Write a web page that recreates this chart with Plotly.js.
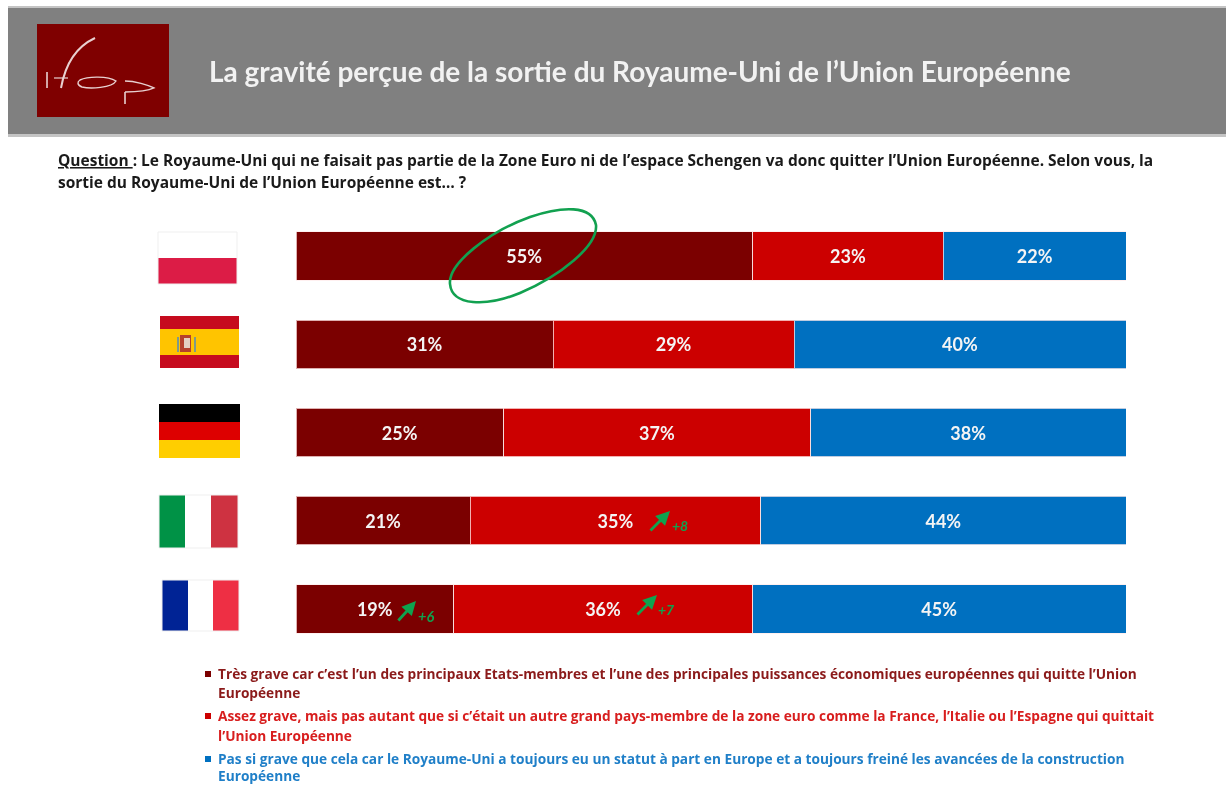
<!DOCTYPE html>
<html><head><meta charset="utf-8">
<script src="https://cdn.plot.ly/plotly-3.0.1.min.js"></script>
<style>html,body{margin:0;padding:0;background:#fff}#c{width:1226px;height:785px;filter:blur(0.7px)}</style>
</head><body><div id="c"></div>
<script>
const countries = ["Pologne","Espagne","Allemagne","Italie","France"];
const tresGrave = [55,31,25,21,19];
const assezGrave = [23,29,37,35,36];
const pasSiGrave = [22,40,38,44,45];
const seriesNames = ["Très grave","Assez grave","Pas si grave"];
const seriesColors = ["#7B0000","#CC0000","#0070C0"];
const W=1226,H=785;
const fx=x=>x/W, fy=y=>1-y/H;
const shapes=[], annotations=[];
function rect(x0,y0,x1,y1,fill,line){shapes.push({type:'rect',xref:'paper',yref:'paper',x0:fx(x0),x1:fx(x1),y0:fy(y0),y1:fy(y1),fillcolor:fill,line:line||{width:0},layer:'below'});}
function path(d,color,width,fill,layer){
  const s=d.replace(/(-?[\d.]+),(-?[\d.]+)/g,(m,a,b)=>fx(+a).toFixed(5)+','+fy(+b).toFixed(5));
  shapes.push({type:'path',xref:'paper',yref:'paper',path:s,line:{color:color,width:width},fillcolor:fill||'rgba(0,0,0,0)',layer:layer||'above'});
}
function text(x,y,t,size,color,anchor,bold,family){annotations.push({xref:'paper',yref:'paper',x:fx(x-2),y:fy(y),text:bold?'<b>'+t+'</b>':t,showarrow:false,xanchor:anchor||'left',yanchor:'middle',align:'left',font:{family:family||'Lato, Open Sans, sans-serif',size:size,color:color}});}
function arrow(x0,y0,x1,y1){annotations.push({xref:'paper',yref:'paper',x:fx(x1),y:fy(y1),ax:x0-x1,ay:y0-y1,axref:'pixel',ayref:'pixel',text:'',showarrow:true,arrowhead:2,arrowsize:1,arrowwidth:2.8,arrowcolor:'#0FA34F'});}

// header
rect(8,7,1226,135,'#808080');
rect(8,6,1226,8,'#C4C4C4');
rect(8,134,1226,137,'#C4C4C4');
rect(37,24,169,117,'#7F0000');
text(209,71,'La gravité perçue de la sortie du Royaume-Uni de l’Union Européenne',28,'#F2F2F2','left',true);
// ifop logo strokes
const lg='#E8D0D0';
path('M47,72 L47,88',lg,1.6);
path('M95,38 C80,45 66,60 61,88',lg,2);
path('M54,78 L68,78',lg,1.2);
path('M80,80 C88,76 108,76 116,81 C112,88 90,89 82,87 C77,85 77,82 80,80 Z',lg,1.4);
path('M125,81 C135,81 148,85 154,88 C146,92 134,92 125,92',lg,1.4);
path('M125,92 L125,104',lg,1.6);

// question
const qFont='Open Sans, sans-serif';
annotations.push({xref:'paper',yref:'paper',x:fx(56),y:fy(160),xanchor:'left',yanchor:'middle',showarrow:false,align:'left',
  text:'<b><u>Question </u>: Le Royaume-Uni qui ne faisait pas partie de la Zone Euro ni de l’espace Schengen va donc quitter l’Union Européenne. Selon vous, la</b>',
  font:{family:qFont,size:15.5,color:'#1A1A1A'}});
text(58,182,'sortie du Royaume-Uni de l’Union Européenne est… ?',15.5,'#1A1A1A','left',true,qFont);

// flags
function hflag(x0,x1,ys,cols){for(let i=0;i<cols.length;i++)rect(x0,ys[i],x1,ys[i+1],cols[i]);}
function vflag(y0,y1,xs,cols){for(let i=0;i<cols.length;i++)rect(xs[i],y0,xs[i+1],y1,cols[i]);}
const faint={color:'#EFEFEF',width:1};
hflag(158,237,[232,258,284],['#FFFFFF','#DC1C46']);
rect(158,232,237,284,'rgba(0,0,0,0)',faint);
hflag(160,239,[316,329,355,368],['#C60B1E','#FFC400','#C60B1E']);
rect(180,335,191,352,'#B5402B');
rect(184,338,190,348,'#E4CFC0');
rect(177,337,179,352,'#7F9A88');
rect(194,337,196,352,'#7F9A88');
hflag(159,240,[404,422,440,458],['#000000','#DD0000','#FFCE00']);
vflag(495,548,[159,185,211,238],['#009246','#FFFFFF','#CE3241']);
rect(159,495,238,548,'rgba(0,0,0,0)',faint);
vflag(580,631,[162,188,213,239],['#002395','#FFFFFF','#EE2F44']);
rect(162,580,239,631,'rgba(0,0,0,0)',faint);

// legend
const legend=[
 {y:[673,692],c:seriesColors[0],col:'#8B1A1A',l:['Très grave car c’est l’un des principaux Etats-membres et l’une des principales puissances économiques européennes qui quitte l’Union','Européenne']},
 {y:[715,735],c:seriesColors[1],col:'#D81E1E',l:['Assez grave, mais pas autant que si c’était un autre grand pays-membre de la zone euro comme la France, l’Italie ou l’Espagne qui quittait','l’Union Européenne']},
 {y:[758,775],c:seriesColors[2],col:'#1F7FC8',l:['Pas si grave que cela car le Royaume-Uni a toujours eu un statut à part en Europe et a toujours freiné les avancées de la construction','Européenne']}
];
legend.forEach(e=>{
  rect(205,e.y[0]-2,211,e.y[0]+4,e.c);
  text(218,e.y[0],e.l[0],13.7,e.col,'left',true,qFont);
  text(218,e.y[1],e.l[1],13.7,e.col,'left',true,qFont);
});

// evolutions
const GR='#0FA34F';
arrow(649,532,670,511); text(672,525,'<b><i>+8</i></b>',14,GR);
arrow(397,622,416,601); text(418,616,'<b><i>+6</i></b>',14.5,GR);
arrow(636,616,657,595); text(658,609,'<b><i>+7</i></b>',14,GR);

// highlight ellipse
path('M450,284 C448,264 488,232 530,217 C562,206 592,205 596,225 C598,246 560,276 520,293 C486,307 452,306 450,284 Z','#12A150',2.6);

const mk=(i,vals)=>({type:'bar',orientation:'h',name:seriesNames[i],y:countries,x:vals,width:0.55,
  marker:{color:seriesColors[i],line:{color:'rgba(255,235,235,0.75)',width:1}},
  text:vals.map(v=>v+'%'),textposition:'inside',insidetextanchor:'middle',constraintext:'none',textangle:0,
  textfont:{family:'Lato, sans-serif',size:18,color:'#F4F4F4',weight:700},hoverinfo:'x+y'});
const data=[mk(0,tresGrave),mk(1,assezGrave),mk(2,pasSiGrave)];
const layout={width:W,height:H,margin:{l:0,r:0,t:0,b:0},paper_bgcolor:'#fff',plot_bgcolor:'rgba(0,0,0,0)',barmode:'stack',showlegend:false,
 xaxis:{domain:[296/W,1126/W],range:[0,100],visible:false,fixedrange:true},
 yaxis:{domain:[1-653/H,1-212/H],autorange:'reversed',visible:false,fixedrange:true,type:'category'},
 shapes,annotations};
Plotly.newPlot('c',data,layout,{displayModeBar:false});
</script></body></html>
